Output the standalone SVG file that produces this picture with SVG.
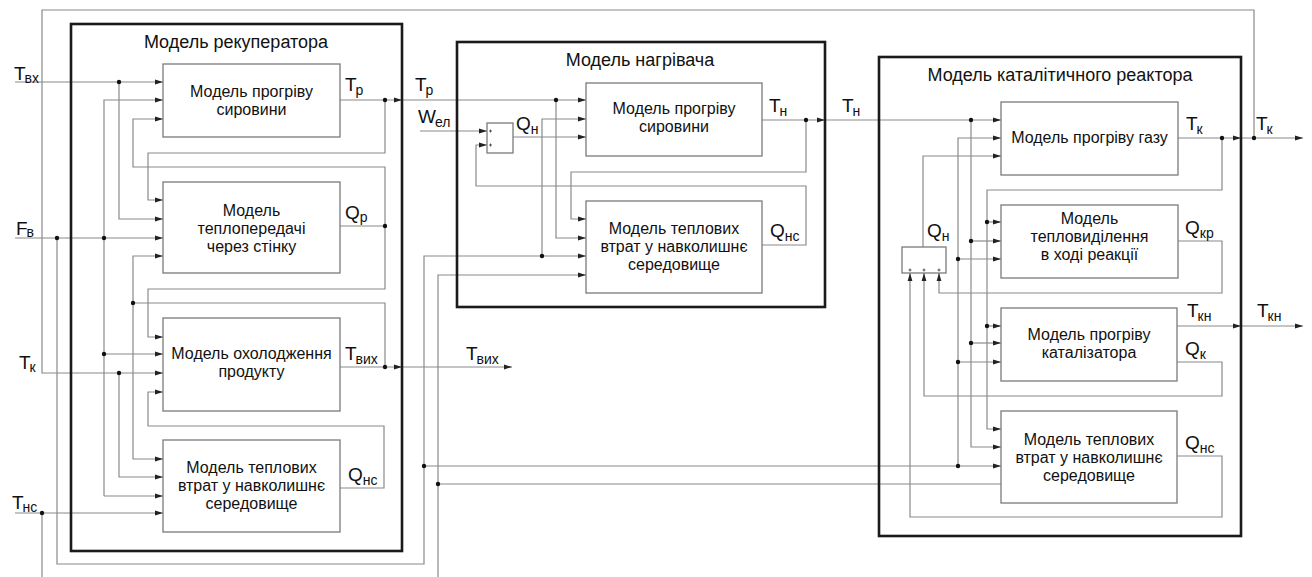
<svg xmlns="http://www.w3.org/2000/svg" width="1312" height="577" viewBox="0 0 1312 577">
<style>
.c{fill:none;stroke:#8a8a8a;stroke-width:1.2}
.b{fill:#fff;stroke:#7a7a7a;stroke-width:1.3}
.m{fill:none;stroke:#1a1a1a;stroke-width:2.6}
.t{font-family:"Liberation Sans",Arial,sans-serif;font-size:16px;fill:#111;text-anchor:middle}
.h{font-family:"Liberation Sans",Arial,sans-serif;font-size:18px;fill:#111;text-anchor:middle}
.l{font-family:"Liberation Sans",Arial,sans-serif;font-size:19px;fill:#111}
.s{font-size:14px}
.d{fill:#111}
.p{stroke:#333;stroke-width:0.8}
</style>
<defs>
<marker id="a" viewBox="0 0 8 6" refX="8" refY="3" markerWidth="8" markerHeight="6" orient="auto" markerUnits="userSpaceOnUse"><path d="M0,0.6 L8,3 L0,5.4z" fill="#222"/></marker>
</defs>

<g id="connectors">
<path class="c" d="M1254,138 V10 H42 V373 H163" marker-end="url(#a)"/>
<path class="c" d="M15,82 H163" marker-end="url(#a)"/>
<path class="c" d="M119,82 V219 H163" marker-end="url(#a)"/>
<path class="c" d="M104,496 V100 H163" marker-end="url(#a)"/>
<path class="c" d="M104,496 H163" marker-end="url(#a)"/>
<path class="c" d="M104,354 H163" marker-end="url(#a)"/>
<path class="c" d="M15,238 H163" marker-end="url(#a)"/>
<path class="c" d="M119,373 V477 H163" marker-end="url(#a)"/>
<path class="c" d="M15,513 H163" marker-end="url(#a)"/>
<path class="c" d="M42,513 V577"/>
<path class="c" d="M340,100 H402" marker-end="url(#a)"/>
<path class="c" d="M402,100 H586" marker-end="url(#a)"/>
<path class="c" d="M385,100 V153 H148 V200 H163" marker-end="url(#a)"/>
<path class="c" d="M340,226 H385 V167 H133 V119 H163" marker-end="url(#a)"/>
<path class="c" d="M385,226 V289 H148 V337 H163" marker-end="url(#a)"/>
<path class="c" d="M340,367 H402" marker-end="url(#a)"/>
<path class="c" d="M402,367 H512" marker-end="url(#a)"/>
<path class="c" d="M385,367 V303 H133"/>
<path class="c" d="M133,303 V256 H163" marker-end="url(#a)"/>
<path class="c" d="M133,303 V459 H163" marker-end="url(#a)"/>
<path class="c" d="M340,488 H384 V426 H148 V392 H163" marker-end="url(#a)"/>
<path class="c" d="M57,238 V564 H424 V256 H586" marker-end="url(#a)"/>
<path class="c" d="M542,256 V119 H586" marker-end="url(#a)"/>
<path class="c" d="M424,466 H1001" marker-end="url(#a)"/>
<path class="c" d="M438,577 V275 H586" marker-end="url(#a)"/>
<path class="c" d="M438,484 H1001"/>
<path class="c" d="M556,100 V238 H586" marker-end="url(#a)"/>
<path class="c" d="M420,131 H487" marker-end="url(#a)"/>
<path class="c" d="M513,137 H586" marker-end="url(#a)"/>
<path class="c" d="M762,120 H825" marker-end="url(#a)"/>
<path class="c" d="M825,120 H1001" marker-end="url(#a)"/>
<path class="c" d="M806,120 V172 H571 V219 H586" marker-end="url(#a)"/>
<path class="c" d="M762,245 H806 V186 H476 V145 H487" marker-end="url(#a)"/>
<path class="c" d="M1178,138 H1241" marker-end="url(#a)"/>
<path class="c" d="M1241,138 H1303" marker-end="url(#a)"/>
<path class="c" d="M1222,138 V190 H987 V429 H1001" marker-end="url(#a)"/>
<path class="c" d="M987,222 H1001" marker-end="url(#a)"/>
<path class="c" d="M987,326 H1001" marker-end="url(#a)"/>
<path class="c" d="M971,120 V447 H1001" marker-end="url(#a)"/>
<path class="c" d="M971,241 H1001" marker-end="url(#a)"/>
<path class="c" d="M971,343 H1001" marker-end="url(#a)"/>
<path class="c" d="M958,466 V138 H1001" marker-end="url(#a)"/>
<path class="c" d="M958,259 H1001" marker-end="url(#a)"/>
<path class="c" d="M958,362 H1001" marker-end="url(#a)"/>
<path class="c" d="M923,247 V156 H1001" marker-end="url(#a)"/>
<path class="c" d="M1178,241 H1222 V293 H939 V273" marker-end="url(#a)"/>
<path class="c" d="M1177,362 H1222 V396 H924 V273" marker-end="url(#a)"/>
<path class="c" d="M1177,456 H1222 V517 H910 V273" marker-end="url(#a)"/>
<path class="c" d="M1177,326 H1241" marker-end="url(#a)"/>
<path class="c" d="M1241,326 H1303" marker-end="url(#a)"/>
<g class="d">
<circle cx="119" cy="82" r="2.2"/><circle cx="57" cy="238" r="2.2"/><circle cx="104" cy="238" r="2.2"/>
<circle cx="104" cy="354" r="2.2"/><circle cx="119" cy="373" r="2.2"/><circle cx="42" cy="513" r="2.2"/>
<circle cx="133" cy="303" r="2.2"/><circle cx="385" cy="100" r="2.2"/><circle cx="385" cy="226" r="2.2"/>
<circle cx="385" cy="367" r="2.2"/><circle cx="424" cy="466" r="2.2"/><circle cx="438" cy="484" r="2.2"/>
<circle cx="556" cy="100" r="2.2"/><circle cx="542" cy="256" r="2.2"/><circle cx="806" cy="120" r="2.2"/>
<circle cx="971" cy="120" r="2.2"/><circle cx="1222" cy="138" r="2.2"/><circle cx="1254" cy="138" r="2.2"/>
<circle cx="987" cy="222" r="2.2"/><circle cx="987" cy="326" r="2.2"/><circle cx="971" cy="241" r="2.2"/>
<circle cx="971" cy="343" r="2.2"/><circle cx="958" cy="259" r="2.2"/><circle cx="958" cy="362" r="2.2"/>
<circle cx="958" cy="466" r="2.2"/>
</g>
</g>

<g id="recuperator">
<rect class="m" x="71" y="24" width="331" height="527"/>
<text class="h" x="236" y="48">Модель рекуператора</text>
</g>
<g id="r-heat">
<rect class="b" x="163" y="64" width="177" height="73"/>
<text class="t" x="251.5" y="97">Модель прогріву</text>
<text class="t" x="251.5" y="115">сировини</text>
</g>
<g id="r-transfer">
<rect class="b" x="163" y="182" width="177" height="91"/>
<text class="t" x="251.5" y="216">Модель</text>
<text class="t" x="251.5" y="234">теплопередачі</text>
<text class="t" x="251.5" y="252">через стінку</text>
</g>
<g id="r-cool">
<rect class="b" x="163" y="318" width="177" height="93"/>
<text class="t" x="251.5" y="359">Модель охолодження</text>
<text class="t" x="251.5" y="377">продукту</text>
</g>
<g id="r-loss">
<rect class="b" x="163" y="440" width="177" height="92"/>
<text class="t" x="251.5" y="473">Модель теплових</text>
<text class="t" x="251.5" y="491">втрат у навколишнє</text>
<text class="t" x="251.5" y="509">середовище</text>
</g>

<g id="heater">
<rect class="m" x="457" y="42" width="368" height="265"/>
<text class="h" x="640" y="66">Модель нагрівача</text>
</g>
<g id="h-sum">
<rect class="b" x="487" y="123" width="26" height="30"/>
<path class="p" d="M489,131 h3 M490.5,129.5 v3 M489,145 h3 M490.5,143.5 v3"/>
</g>
<g id="h-heat">
<rect class="b" x="586" y="83" width="176" height="73"/>
<text class="t" x="674" y="114">Модель прогріву</text>
<text class="t" x="674" y="132">сировини</text>
</g>
<g id="h-loss">
<rect class="b" x="586" y="201" width="176" height="92"/>
<text class="t" x="674" y="234">Модель теплових</text>
<text class="t" x="674" y="252">втрат у навколишнє</text>
<text class="t" x="674" y="270">середовище</text>
</g>

<g id="reactor">
<rect class="m" x="879" y="57" width="362" height="479"/>
<text class="h" x="1060" y="81">Модель каталітичного реактора</text>
</g>
<g id="k-sum">
<rect class="b" x="902" y="247" width="44" height="26"/>
<path class="p" d="M908.5,270 h3 M910,268.5 v3 M922.5,270 h3 M924,268.5 v3 M937.5,270 h3 M939,268.5 v3"/>
</g>
<g id="k-gas">
<rect class="b" x="1001" y="102" width="177" height="73"/>
<text class="t" x="1089.5" y="143">Модель прогріву газу</text>
</g>
<g id="k-react">
<rect class="b" x="1001" y="205" width="177" height="73"/>
<text class="t" x="1089.5" y="224">Модель</text>
<text class="t" x="1089.5" y="242">тепловиділення</text>
<text class="t" x="1089.5" y="260">в ході реакції</text>
</g>
<g id="k-cat">
<rect class="b" x="1001" y="308" width="176" height="73"/>
<text class="t" x="1089" y="340">Модель прогріву</text>
<text class="t" x="1089" y="358">каталізатора</text>
</g>
<g id="k-loss">
<rect class="b" x="1001" y="411" width="176" height="92"/>
<text class="t" x="1089" y="445">Модель теплових</text>
<text class="t" x="1089" y="463">втрат у навколишнє</text>
<text class="t" x="1089" y="481">середовище</text>
</g>

<g id="labels">
<text class="l" x="14" y="80">T<tspan class="s" dx="-1" dy="3">вх</tspan></text>
<text class="l" x="345" y="91">T<tspan class="s" dx="-1" dy="4">р</tspan></text>
<text class="l" x="415" y="91">T<tspan class="s" dx="-1" dy="4">р</tspan></text>
<text class="l" x="16" y="235">F<tspan class="s" dx="-1" dy="2">в</tspan></text>
<text class="l" x="345" y="219">Q<tspan class="s" dx="0" dy="3">р</tspan></text>
<text class="l" x="19" y="369">T<tspan class="s" dx="-1" dy="3">к</tspan></text>
<text class="l" x="345" y="360">T<tspan class="s" dx="-1" dy="4">вих</tspan></text>
<text class="l" x="466" y="360">T<tspan class="s" dx="-1" dy="4">вих</tspan></text>
<text class="l" x="348" y="481">Q<tspan class="s" dx="0" dy="4">нс</tspan></text>
<text class="l" x="12" y="509">T<tspan class="s" dx="-1" dy="3">нс</tspan></text>
<text class="l" x="418" y="123">W<tspan class="s" dx="-1" dy="4">ел</tspan></text>
<text class="l" x="516" y="130">Q<tspan class="s" dx="0" dy="4">н</tspan></text>
<text class="l" x="769" y="112">T<tspan class="s" dx="-1" dy="4">н</tspan></text>
<text class="l" x="842" y="112">T<tspan class="s" dx="-1" dy="4">н</tspan></text>
<text class="l" x="770" y="237">Q<tspan class="s" dx="0" dy="4">нс</tspan></text>
<text class="l" x="1186" y="130">T<tspan class="s" dx="-1" dy="4">к</tspan></text>
<text class="l" x="1256" y="130">T<tspan class="s" dx="-1" dy="4">к</tspan></text>
<text class="l" x="1185" y="234">Q<tspan class="s" dx="0" dy="4">кр</tspan></text>
<text class="l" x="927" y="237">Q<tspan class="s" dx="0" dy="4">н</tspan></text>
<text class="l" x="1187" y="317">T<tspan class="s" dx="-1" dy="4">кн</tspan></text>
<text class="l" x="1257" y="317">T<tspan class="s" dx="-1" dy="4">кн</tspan></text>
<text class="l" x="1185" y="355">Q<tspan class="s" dx="0" dy="4">к</tspan></text>
<text class="l" x="1185" y="449">Q<tspan class="s" dx="0" dy="4">нс</tspan></text>
</g>
</svg>
